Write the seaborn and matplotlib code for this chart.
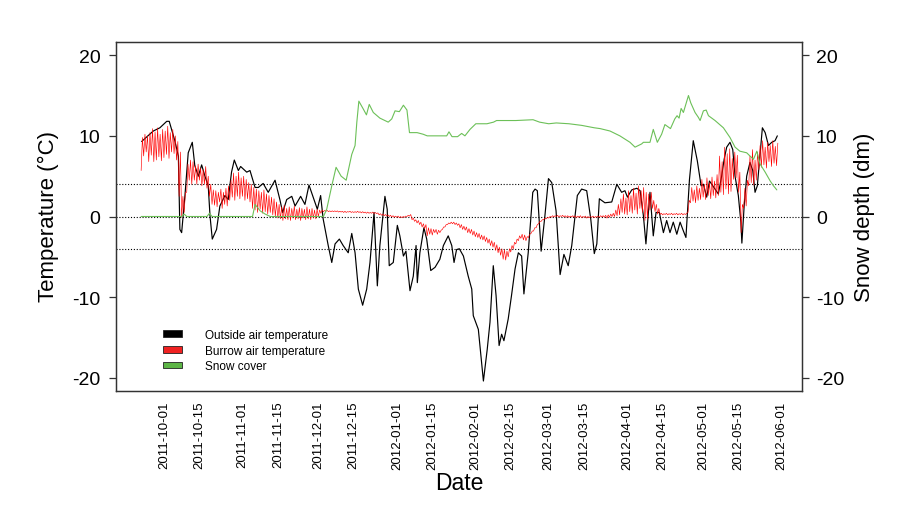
import numpy as np
import pandas as pd
import matplotlib
matplotlib.use("Agg")
import matplotlib.pyplot as plt
import seaborn as sns
from matplotlib.patches import Patch

# ---------------- data ----------------
origin = "2011-10-01"          # day 0 of the x axis
date_ticks = ["2011-10-01", "2011-10-15", "2011-11-01", "2011-11-15", "2011-12-01",
              "2011-12-15", "2012-01-01", "2012-01-15", "2012-02-01", "2012-02-15",
              "2012-03-01", "2012-03-15", "2012-04-01", "2012-04-15", "2012-05-01",
              "2012-05-15", "2012-06-01"]

# outside air temperature (days since origin, deg C)
outside_day = [-8.8, -4.2, -1.6, 1.1, 2.1, 4.3, 5.7, 6.3, 7.0, 8.3, 9.6, 11.2, 12.2, 13.6, 14.9,
               16.2, 17.5, 18.2, 19.1, 20.8, 22.1, 24.1, 25.4, 26.7, 27.8, 29.4, 30.3, 32.7, 34.0,
               36.0, 37.3, 39.2, 41.2, 43.9, 45.8, 46.9, 48.5, 50.5, 51.8, 54.0, 55.7, 57.3, 59.3,
               60.6, 61.9, 62.9, 64.9, 66.3, 67.6, 69.3, 70.8, 72.8, 74.2, 75.5, 76.8, 78.5, 80.1,
               81.4, 83.0, 84.3, 85.3, 87.3, 88.2, 89.0, 90.6, 92.2, 93.2, 94.6, 95.6, 97.2, 98.5,
               99.6, 100.1, 101.1, 102.7, 103.8, 105.4, 107.1, 109.0, 110.4, 112.3, 113.7, 114.6,
               115.6, 116.7, 118.3, 120.2, 121.6, 122.2, 124.2, 126.2, 127.7, 128.8, 130.1, 131.2,
               132.4, 133.4, 134.3, 136.0, 137.3, 138.7, 140.0, 141.3, 142.2, 143.9, 145.7, 146.6,
               147.5, 149.0, 150.5, 151.9, 153.2, 154.9, 156.5, 158.0, 159.7, 161.1, 163.3, 165.0,
               167.0, 168.6, 170.0, 171.0, 172.0, 174.2, 176.9, 178.9, 180.8, 182.1, 183.1, 184.8,
               186.8, 188.1, 189.4, 190.4, 192.0, 193.3, 194.4, 195.7, 197.3, 198.6, 199.9, 201.2,
               202.6, 203.9, 205.2, 206.2, 207.6, 209.1, 210.7, 212.2, 213.1, 214.4, 215.5, 217.7,
               219.0, 220.3, 221.3, 222.3, 223.6, 224.7, 225.6, 226.9, 227.9, 228.3, 229.2, 230.2,
               231.5, 232.6, 233.5, 234.4, 235.2, 236.4, 237.5, 238.8, 240.1, 241.4, 242.3]
outside_temp = [9.3, 10.6, 11.0, 11.8, 11.8, 9.4, 7.5, -1.6, -2.0, 2.6, 7.9, 9.2, 6.3, 5.0, 6.4,
                5.0, 3.8, 0.1, -2.8, -1.6, 1.3, 2.6, 2.1, 5.5, 7.0, 5.7, 6.2, 5.5, 5.7,
                3.6, 3.6, 4.1, 3.0, 4.5, 2.1, 0.5, 2.1, 2.5, 1.3, 2.5, 1.5, 3.9, 2.1,
                0.9, 2.6, -0.3, -3.6, -5.7, -3.4, -2.8, -3.6, -4.5, -2.1, -4.5, -9.0, -11.0, -9.0,
                -5.7, 0.5, -8.6, -3.6, 2.5, 0.9, -6.1, -5.7, -1.1, -2.4, -4.9, -4.3, -9.2, -7.4,
                -3.6, -8.2, -4.5, -1.4, -2.8, -6.7, -6.3, -5.3, -3.6, -2.4, -3.6, -5.7,
                -4.1, -4.0, -4.9, -7.4, -9.0, -12.3, -14.0, -20.4, -16.5, -13.1, -6.1, -9.8,
                -16.0, -14.6, -15.4, -12.7, -9.8, -6.5, -4.5, -4.9, -9.6, -4.5, 3.0, 3.4,
                3.2, -4.3, 0.1, 4.7, 4.2, 0.7, -7.2, -4.7, -6.1, -3.6, 2.6, 3.4,
                3.2, -0.3, -4.6, -3.4, 2.2, 1.7, 1.8, 4.0, 3.0, 3.2, 2.4, 3.3,
                3.5, 3.2, 0.1, -3.4, 3.0, -2.4, 0.5, 0.5, -2.0, -0.5, -2.0, -0.7,
                -2.2, -0.7, -1.8, -2.6, 4.6, 9.4, 6.9, 3.8, 4.0, 2.4, 4.4, 3.4,
                2.8, 5.0, 7.1, 8.6, 9.2, 8.3, 5.0, 2.6, -0.7, -3.3, 1.3, 5.0,
                6.7, 5.7, 3.0, 3.8, 6.7, 11.0, 10.4, 8.8, 9.2, 9.4, 10.0]

# burrow air temperature: daily maximum / minimum, first day = burrow_start
burrow_start = -9
burrow_max = [9.8, 10.2, 10.0, 10.4, 10.9, 10.5, 11.0, 10.2, 10.8, 10.6, 11.2, 10.4, 10.8, 10.0, 9.3,
              8.0, 2.5, 3.0, 6.5, 7.0, 6.8, 6.3, 6.5, 6.0, 5.8, 6.2,
              5.0, 4.0, 3.3, 3.2, 3.0, 3.4, 3.0, 3.5, 3.8,
              4.5, 5.4, 5.0, 5.5, 4.8, 5.0, 4.6, 4.2, 4.0,
              3.6, 3.4, 3.2, 3.0, 3.3, 2.8, 2.6, 2.4, 2.2,
              1.8, 1.5, 1.2, 1.4, 1.0, 1.2, 1.0, 1.3, 0.9, 1.1, 1.0, 0.9, 1.2, 0.9, 1.0, 0.8, 0.9, 0.8, 0.8,
              0.75, 0.75, 0.7, 0.7, 0.7, 0.7, 0.65, 0.65,
              0.65, 0.6, 0.65, 0.6, 0.6, 0.65, 0.6,
              0.6, 0.55, 0.55, 0.5, 0.55, 0.5, 0.45,
              0.35, 0.3, 0.25, 0.2, 0.15, 0.1,
              0.05, 0.05, 0.0, 0.0, 0.05, 0.15, 0.25,
              -0.2, -0.4, -0.5, -0.7, -0.9, -1.0,
              -1.4, -1.5, -1.6, -1.6, -1.7, -1.7,
              -1.3, -1.0, -0.8, -0.7, -0.7, -0.8, -0.9,
              -1.0, -1.2, -1.3, -1.5, -1.6, -1.8, -2.0, -2.1, -2.3,
              -2.4, -2.6, -2.8, -3.0, -3.2, -3.5, -3.8,
              -4.0, -4.1, -4.3, -4.0, -3.6,
              -3.2, -2.8, -2.4, -2.2, -2.3,
              -2.5, -2.2, -1.8, -1.4, -1.0,
              -0.6, -0.4, -0.2, -0.1, 0.0,
              0.1, 0.1, 0.15, 0.1, 0.15, 0.1, 0.1, 0.05, 0.1, 0.1, 0.05, 0.1, 0.0, 0.05, 0.0, 0.0,
              0.05, 0.0, 0.05, 0.1, 0.1, 0.15, 0.2, 0.3, 0.4,
              0.8, 1.5, 2.2, 2.8, 2.3, 3.2, 2.6, 3.5, 2.9, 3.8, 3.2, 3.6,
              3.0, 2.8, 3.0, 2.0, 1.5, 1.0,
              0.4, 0.35, 0.4, 0.35, 0.4, 0.35, 0.4, 0.35, 0.4, 0.35, 0.4,
              2.0, 3.6, 3.3, 3.8, 3.5, 4.6, 4.0, 4.8, 4.2, 4.9, 4.4, 5.2,
              7.5, 6.8, 8.6, 7.8, 8.4, 7.2, 8.0, 7.6, 5.5,
              1.5, 3.5, 4.5, 7.5, 8.3, 7.0, 8.0, 8.8, 9.4, 8.6, 9.2, 8.8, 9.4, 8.7, 9.1]
burrow_min = [5.7, 7.5, 8.0, 6.8, 7.6, 6.8, 7.0, 7.4, 6.9, 7.3, 7.7, 7.2, 8.0, 7.8, 7.0,
              2.5, -0.1, 0.5, 3.0, 4.5, 4.0, 4.5, 4.0, 4.5, 3.8, 4.0,
              3.5, 2.5, 1.5, 1.4, 1.2, 1.8, 1.0, 1.5, 1.3,
              2.0, 2.4, 2.0, 2.5, 2.2, 2.5, 2.0, 2.2, 1.8,
              1.0, 0.8, 0.5, 0.9, 0.4, 0.6, 0.3, 0.5, 0.2,
              0.0, -0.2, -0.3, -0.5, -0.3, -0.4, -0.5, -0.2, -0.4, -0.3, -0.5, -0.2, -0.4, -0.3, -0.4, -0.2, -0.3, 0.0, 0.4,
              0.6, 0.65, 0.6, 0.6, 0.6, 0.6, 0.55, 0.55,
              0.5, 0.5, 0.55, 0.5, 0.5, 0.5, 0.5,
              0.45, 0.45, 0.4, 0.4, 0.4, 0.35, 0.35,
              0.2, 0.15, 0.1, 0.05, 0.0, -0.05,
              -0.1, -0.1, -0.15, -0.15, -0.1, 0.0, 0.05,
              -0.4, -0.6, -0.8, -1.0, -1.3, -1.5,
              -2.4, -2.2, -2.3, -2.0, -2.2, -2.0,
              -1.6, -1.3, -1.0, -0.9, -0.9, -1.0, -1.1,
              -1.4, -1.6, -1.7, -2.0, -2.1, -2.3, -2.5, -2.6, -2.8,
              -2.9, -3.1, -3.3, -3.6, -3.8, -4.2, -4.5,
              -4.8, -5.3, -5.4, -5.0, -4.4,
              -4.0, -3.4, -3.0, -2.7, -2.9,
              -3.0, -2.6, -2.1, -1.8, -1.4,
              -0.9, -0.6, -0.4, -0.3, -0.2,
              -0.1, -0.05, 0.0, -0.05, 0.0, -0.05, -0.1, -0.1, -0.05, -0.1, -0.15, -0.1, -0.15, -0.1, -0.2, -0.15,
              -0.1, -0.15, -0.1, -0.1, -0.05, -0.1, -0.2, -0.1, 0.0,
              0.0, 0.1, 0.2, 0.5, 0.3, 0.2, 0.6, 0.4, 0.8, 0.3, 1.0, 0.5,
              -0.5, -0.3, 0.8, 1.0, 0.6, 0.3,
              0.25, 0.2, 0.25, 0.2, 0.25, 0.2, 0.25, 0.2, 0.25, 0.2, 0.25,
              0.5, 1.7, 1.9, 1.7, 2.0, 2.1, 2.4, 2.1, 2.6, 2.2, 2.6, 2.3,
              2.6, 3.0, 2.7, 3.4, 2.8, 3.1, 4.6, 4.8, 3.0,
              -2.0, 1.0, 1.3, 3.8, 4.2, 3.9, 4.5, 5.8, 6.1, 6.4, 6.0, 6.8, 6.2, 6.6, 6.3]

# snow depth (days since origin, dm)
snow_day = [-9, 7, 8, 9, 17, 18, 19, 35, 36, 38, 40, 42, 63, 64.3, 66.3, 68, 70, 72, 74.2, 75.5,
            76.2, 77, 78.8, 80, 81.1, 82.7, 85.3, 88.6, 90, 91.3, 93, 94.6, 96, 97, 100, 102.4,
            104, 111.7, 112.6, 113.8, 116, 117.6, 118.9, 120.9, 123.2, 127.6, 130.2, 131.4, 139,
            145.8, 148.4, 152, 155, 160, 165, 170, 172.3, 176.2, 180.1, 184.1, 186.1, 187.4,
            188.7, 189.4, 192, 193.3, 194.9, 196.6, 197.9, 200.1, 201.8, 202.7, 203.5, 204.3,
            205.2, 207.2, 208.1, 209.8, 211.1, 211.8, 213.1, 214.2, 215.1, 217.7, 221, 223.6,
            225.6, 227.5, 230.2, 231.5, 232.9, 234.2, 235.5, 237.5, 239.5, 240.8, 242.1]
snow_depth = [0, 0, 0.3, 0, 0, 0.4, 0, 0, 1.5, 0.7, 0.3, 0, 0, 0.9, 3.8, 6.1, 5.0, 4.5, 7.7, 8.8,
              11.7, 14.3, 13.3, 12.6, 13.9, 12.9, 12.2, 11.7, 12.1, 13.1, 13.0, 13.8, 13.2, 10.4, 10.4, 10.2,
              10.0, 10.0, 10.5, 9.9, 9.9, 10.3, 10.0, 10.8, 11.5, 11.5, 11.7, 11.9, 11.9,
              12.0, 11.7, 11.5, 11.6, 11.5, 11.3, 11.0, 10.9, 10.6, 10.0, 9.2, 8.6, 8.8,
              9.0, 9.2, 9.2, 10.8, 9.2, 10.2, 11.4, 10.9, 12.1, 12.5, 12.2, 13.4,
              12.9, 15.0, 14.1, 12.9, 12.3, 11.9, 13.1, 13.2, 12.5, 11.9, 11.0, 9.8,
              8.6, 8.1, 7.9, 7.5, 7.1, 8.1, 6.5, 5.5, 4.4, 3.8, 3.3]

series_labels = ["Outside air temperature", "Burrow air temperature", "Snow cover"]
temp_ticks = [-20, -10, 0, 10, 20]
ref_lines = [-4, 0, 4]

# ---------------- styling ----------------
sns.set_style("white")
plt.rcParams["font.family"] = ["Liberation Sans", "DejaVu Sans"]
plt.rcParams["axes.unicode_minus"] = False
plt.rcParams["text.color"] = "black"
plt.rcParams["xtick.color"] = "black"
plt.rcParams["ytick.color"] = "black"
plt.rcParams["axes.labelcolor"] = "black"

C_OUT, C_BUR, C_SNOW = "#000000", "#FF0000", "#6CC058"
C_BUR_LEG, C_SNOW_LEG = "#F02222", "#5DB546"

W, H = 920, 506
fig = plt.figure(figsize=(W / 100, H / 100), dpi=100)
L, R, T, B = 115.7, 802.0, 43.3, 391.7
ax = fig.add_axes([L / W, 1 - B / H, (R - L) / W, (B - T) / H])

# build frames
df_out = pd.DataFrame({"day": outside_day, "temp": outside_temp})
rows = []
for i, (hi, lo) in enumerate(zip(burrow_max, burrow_min)):
    d = burrow_start + i
    rows.append((d, lo))
    rows.append((d + 0.5, hi))
df_bur = pd.DataFrame(rows, columns=["day", "temp"])
df_snow = pd.DataFrame({"day": snow_day, "depth": snow_depth})

for y in ref_lines:
    ax.axhline(y, color="black", lw=0.8, ls=(0, (1, 1.6)), zorder=1)

sns.lineplot(data=df_out, x="day", y="temp", ax=ax, color=C_OUT, lw=0.85,
             estimator=None, sort=False, zorder=2)
sns.lineplot(data=df_bur, x="day", y="temp", ax=ax, color=C_BUR, lw=0.45,
             estimator=None, sort=False, zorder=3)

ax2 = ax.twinx()
sns.lineplot(data=df_snow, x="day", y="depth", ax=ax2, color=C_SNOW, lw=0.8,
             estimator=None, sort=False)

x0 = pd.Timestamp(origin)
tick_pos = [(pd.Timestamp(t) - x0).days for t in date_ticks]
xmin, xmax = -19.05, 252.05
ylim = (-21.6, 21.6)
for a in (ax, ax2):
    a.set_xlim(xmin, xmax)
    a.set_ylim(*ylim)
    a.set_xlabel("")
    a.set_ylabel("")
    for s in a.spines.values():
        s.set_color("#333333")
        s.set_linewidth(0.9)

ax.set_xticks(tick_pos)
ax.set_xticklabels(date_ticks, rotation=90, fontsize=9.5)
ax.set_yticks(temp_ticks)
ax.set_yticklabels([str(v) for v in temp_ticks], fontsize=14)
ax2.set_yticks(temp_ticks)
ax2.set_yticklabels([str(v) for v in temp_ticks], fontsize=14)
ax.tick_params(axis="x", length=5, width=0.9, pad=2, color="#333333", labelcolor="black")
ax.tick_params(axis="y", length=5, width=0.9, pad=6, color="#333333", labelcolor="black")
ax2.tick_params(axis="y", length=5, width=0.9, pad=5, color="#333333", labelcolor="black")

fig.text(48 / W, 1 - 217 / H, "Temperature (\u00b0C)", rotation=90, ha="center",
         va="center", fontsize=16, color="black")
fig.text(865 / W, 1 - 217 / H, "Snow depth (dm)", rotation=90, ha="center",
         va="center", fontsize=16, color="black")
fig.text(459 / W, 1 - 484 / H, "Date", ha="center", va="center", fontsize=16.5,
         color="black")

handles = [Patch(facecolor=c, edgecolor="#222222", linewidth=0.6)
           for c in (C_OUT, C_BUR_LEG, C_SNOW_LEG)]
leg = ax2.legend(handles, series_labels, loc="upper left",
                 bbox_to_anchor=(163 / W, 1 - 330 / H), bbox_transform=fig.transFigure,
                 frameon=False, fontsize=8.5, handlelength=1.65, handleheight=0.5,
                 handletextpad=1.9, labelspacing=0.3, borderpad=0, borderaxespad=0)
for t in leg.get_texts():
    t.set_color("black")

fig.savefig("out.png", dpi=100)
